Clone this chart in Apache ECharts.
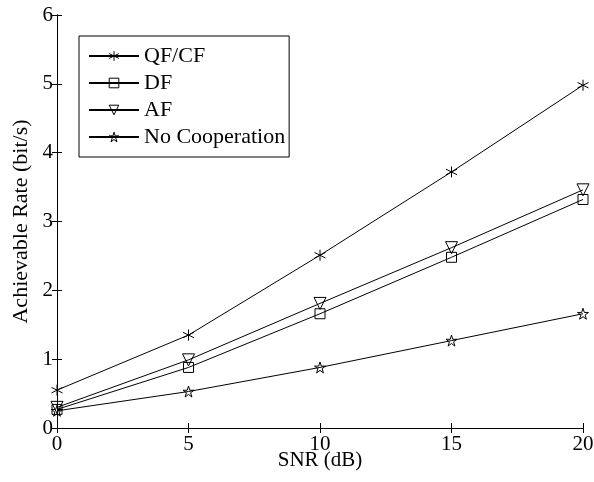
<!DOCTYPE html>
<html>
<head>
<meta charset="utf-8" />
<title>Achievable Rate</title>
<script src="https://cdn.jsdelivr.net/npm/echarts@6/dist/echarts.min.js"></script>
<style>
html, body { margin: 0; padding: 0; background: #fff; }
#chart { width: 594px; height: 482px; }
</style>
</head>
<body>
<div id="chart"></div>
<script type="text/javascript">
// x轴数据
var snr = [0, 5, 10, 15, 20];
// 各方案数据
var qfcf = [0.55, 1.35, 2.51, 3.72, 4.98];
var df = [0.27, 0.88, 1.66, 2.48, 3.32];
var af = [0.30, 0.99, 1.81, 2.62, 3.46];
var noCoop = [0.25, 0.53, 0.88, 1.27, 1.66];
var names = ['QF/CF', 'DF', 'AF', 'No Cooperation'];

var font = 'Liberation Serif';
var starPath = 'path://M0,-1L0.2245,-0.309L0.951,-0.309L0.363,0.118L0.588,0.809L0,0.382L-0.588,0.809L-0.363,0.118L-0.951,-0.309L-0.2245,-0.309Z';
var asteriskPath = 'path://M0,-1L0,1M-0.866,-0.5L0.866,0.5M-0.866,0.5L0.866,-0.5M0,0Z';

function pairs(ys) {
	var out = [];
	for (var i = 0; i < snr.length; i++) {
		out.push([snr[i], ys[i]]);
	}
	return out;
}

function line(name, ys, symbol, size, rotate) {
	return {
		name: name,
		type: 'line',
		data: pairs(ys),
		symbol: symbol,
		symbolSize: size,
		symbolRotate: rotate || 0,
		showAllSymbol: true,
		lineStyle: { color: '#000', width: 1 },
		itemStyle: { color: 'rgba(0,0,0,0)', borderColor: '#000', borderWidth: 1 },
		emphasis: { disabled: true },
		animation: false
	};
}

var myChart = echarts.init(document.getElementById('chart'));
var option = {
	backgroundColor: '#fff',
	animation: false,
	textStyle: { fontFamily: font, color: '#000' },
	grid: { left: 57, right: 11, top: 15, bottom: 54, outerBoundsMode: 'none', containLabel: false },
	legend: {
		data: names,
		orient: 'vertical',
		left: 79,
		top: 36,
		itemWidth: 50,
		itemHeight: 12,
		itemGap: 5,
		padding: [9, 4, 9, 9],
		borderColor: '#000',
		borderWidth: 1,
		backgroundColor: '#fff',
		itemStyle: { color: 'rgba(0,0,0,0)', borderColor: '#000', borderWidth: 1 },
		textStyle: { fontFamily: font, fontSize: 22, color: '#000' }
	},
	xAxis: [{
		type: 'value',
		min: 0,
		max: 20,
		interval: 5,
		name: 'SNR (dB)',
		nameLocation: 'middle',
		nameGap: 22,
		nameMoveOverlap: false,
		nameTextStyle: { fontFamily: font, fontSize: 21, color: '#000' },
		axisLine: { lineStyle: { color: '#000', width: 1 } },
		axisTick: { inside: true, length: 5, lineStyle: { color: '#000' } },
		axisLabel: { fontFamily: font, fontSize: 21, color: '#000', margin: 6 },
		splitLine: { show: false }
	}, {
		type: 'value',
		position: 'top',
		min: 0,
		max: 20,
		interval: 5,
		axisLine: { show: true, lineStyle: { color: '#000', width: 1 } },
		axisTick: { inside: true, length: 5, lineStyle: { color: '#000' } },
		axisLabel: { show: false },
		splitLine: { show: false }
	}],
	yAxis: [{
		type: 'value',
		min: 0,
		max: 6,
		interval: 1,
		name: 'Achievable Rate (bit/s)',
		nameLocation: 'middle',
		nameGap: 25,
		nameMoveOverlap: false,
		nameTextStyle: { fontFamily: font, fontSize: 22, color: '#000' },
		axisLine: { show: true, lineStyle: { color: '#000', width: 1 } },
		axisTick: { show: true, inside: true, length: 5, lineStyle: { color: '#000' } },
		axisLabel: { fontFamily: font, fontSize: 21, color: '#000', margin: 4 },
		splitLine: { show: false }
	}, {
		type: 'value',
		position: 'right',
		min: 0,
		max: 6,
		interval: 1,
		axisLine: { show: true, lineStyle: { color: '#000', width: 1 } },
		axisTick: { show: true, inside: true, length: 5, lineStyle: { color: '#000' } },
		axisLabel: { show: false },
		splitLine: { show: false }
	}],
	series: [
		line(names[0], qfcf, asteriskPath, 11),
		line(names[1], df, 'rect', 10),
		line(names[2], af, 'triangle', 12, 180),
		line(names[3], noCoop, starPath, 11)
	]
};
myChart.setOption(option);
</script>
</body>
</html>
